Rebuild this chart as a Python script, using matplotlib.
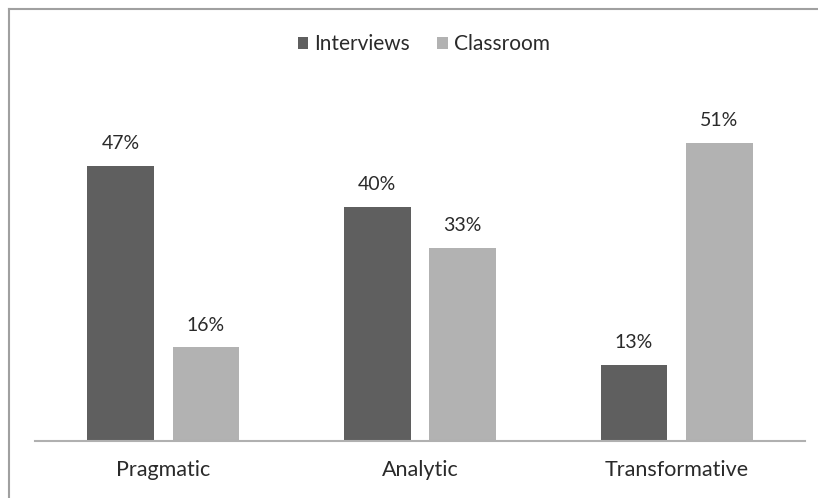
import matplotlib
matplotlib.use("Agg")
import matplotlib.pyplot as plt
from matplotlib.lines import Line2D
import numpy as np

categories = ["Pragmatic", "Analytic", "Transformative"]
interviews = [47, 40, 13]
classroom = [16, 33, 51]
series_names = ["Interviews", "Classroom"]

plt.rcParams['font.family'] = ['Lato', 'DejaVu Sans']

W, H = 818, 498
fig = plt.figure(figsize=(W/100, H/100), dpi=100)
ax = fig.add_axes([35/W, 1-441/H, 770/W, 351/H])
x = np.arange(len(categories))
bw = 0.26
off = 0.166
c1, c2 = "#5f5f5f", "#b2b2b2"
tc = "#2a2a2a"
b1 = ax.bar(x - off, interviews, bw, color=c1, label=series_names[0])
b2 = ax.bar(x + off, classroom, bw, color=c2, label=series_names[1])
for bars, vals in ((b1, interviews), (b2, classroom)):
    for r, v in zip(bars, vals):
        ax.annotate(f"{v}%", (r.get_x() + r.get_width()/2, v), xytext=(0, 10),
                    textcoords="offset points", ha="center", va="bottom",
                    fontsize=14, color=tc)
ax.set_xlim(-0.5, 2.5)
ax.set_ylim(0, 60)
for s in ["top", "right", "left"]:
    ax.spines[s].set_visible(False)
ax.spines["bottom"].set_color("#b0b0b0")
ax.spines["bottom"].set_linewidth(1.5)
ax.set_yticks([])
ax.set_xticks(x)
ax.set_xticklabels(categories, fontsize=15.5, color=tc)
ax.tick_params(axis="x", length=0, pad=14)

leg = fig.legend(loc="center", bbox_to_anchor=(424/W, 1-44/H), ncol=2, frameon=False,
                 fontsize=15, handlelength=0.5, handleheight=0.5, handletextpad=0.3,
                 columnspacing=1.3)
for t in leg.get_texts():
    t.set_color(tc)

fig.add_artist(Line2D([9/W, 1], [1-9/H, 1-9/H], color="#a0a0a0", lw=1.5))
fig.add_artist(Line2D([9/W, 9/W], [0, 1-9/H], color="#a0a0a0", lw=1.5))

fig.savefig("out.png", dpi=100, facecolor="white")
